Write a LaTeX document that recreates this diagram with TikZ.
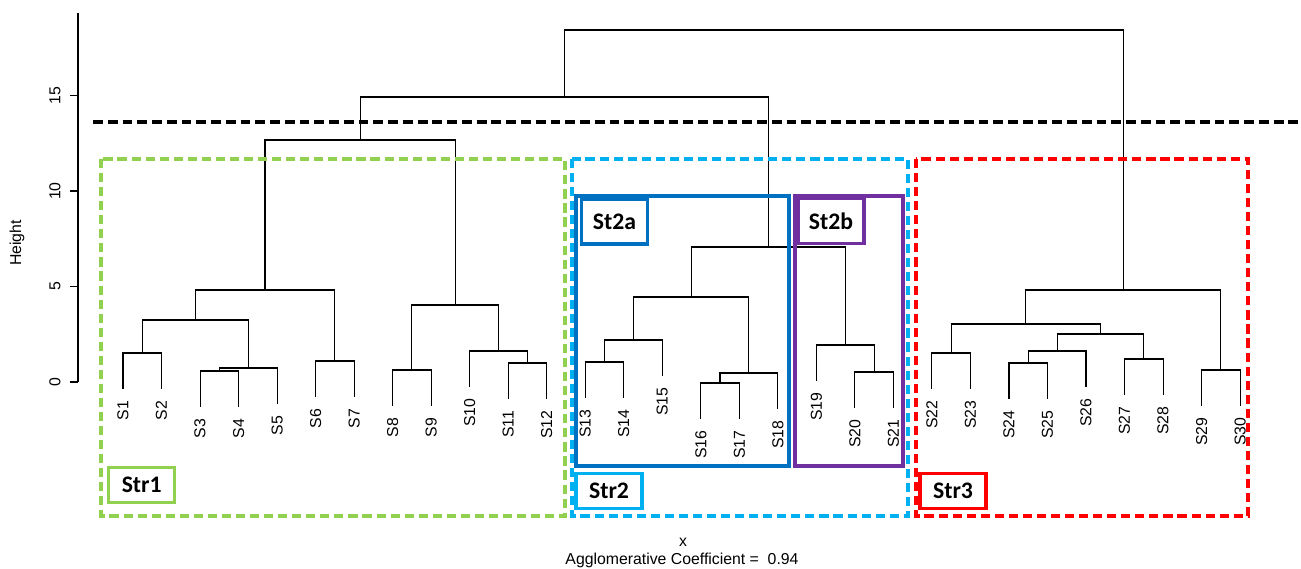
\documentclass[tikz,border=0pt]{standalone}
\usepackage{fontspec}
\setmainfont{Liberation Sans}
\newfontfamily\calibri{Carlito}
\usetikzlibrary{calc}
\definecolor{strgreen}{HTML}{92D050}
\definecolor{strcyan}{HTML}{00B0F0}
\definecolor{strred}{HTML}{FF0000}
\definecolor{stblue}{HTML}{0070C0}
\definecolor{stpurple}{HTML}{7030A0}
\begin{document}
\begin{tikzpicture}[x=0.02cm,y=-0.02cm,
  tree/.style={line width=0.6pt},
  leaf/.style={rotate=90,anchor=east,inner sep=0pt,font=\fontsize{9}{10}\selectfont},
  grp/.style={dash pattern=on 5.2pt off 2.8pt,line width=1.8pt},
  sub/.style={line width=1.9pt},
  tag/.style={draw,line width=1.9pt,inner sep=0pt,minimum width=1.32cm,minimum height=0.71cm,
    font=\calibri\bfseries\fontsize{13.5}{15}\selectfont}]
  \useasboundingbox (0,0) rectangle (1301,568);

  % axis
  \draw[line width=0.6pt] (78,13) -- (78,382);
  \foreach \v in {0,5,10,15} {
    \draw[line width=0.6pt] (70,{382-19.1*\v}) -- (78,{382-19.1*\v});
    \node[rotate=90,font=\fontsize{9}{10}\selectfont] (tick\v) at (55,{382-19.1*\v}) {\v};
  }
  \node[rotate=90,font=\fontsize{9}{10}\selectfont] (ylab) at (17,243) {Height};

  % leaves
  \foreach \i/\b in {1/388.5, 2/388.5, 3/406.5, 4/406.5, 5/403.5, 6/396.5, 7/396.5, 8/405.5,
      9/405.5, 10/386.5, 11/398.5, 12/398.5, 13/397.5, 14/397.5, 15/375.5, 16/418.5, 17/418.5,
      18/408.5, 19/380.5, 20/407.5, 21/407.5, 22/388.5, 23/388.5, 24/398.5, 25/398.5,
      26/386.5, 27/394.5, 28/394.5, 29/405.5, 30/405.5} {
    \coordinate (l\i) at ({123+38.52*(\i-1)},\b);
    \node[leaf] (s\i) at ({123+38.52*(\i-1)},{\b+12}) {S\i};
  }

  % merges
  \coordinate (a1) at (142.3,353);  \coordinate (a2) at (219.3,371);
  \coordinate (a3) at (248.2,368);  \coordinate (a4) at (195.2,320);
  \coordinate (a5) at (334.9,361);  \coordinate (a6) at (265,290);
  \coordinate (a7) at (411.9,370);  \coordinate (a8) at (527.5,363);
  \coordinate (a9) at (498.6,351);  \coordinate (a10) at (455.2,305);
  \coordinate (a11) at (360.1,140);
  \coordinate (b1) at (604.5,362);  \coordinate (b2) at (633.4,340);
  \coordinate (b3) at (720,383);    \coordinate (b4) at (748.9,373);
  \coordinate (b5) at (691.2,297);  \coordinate (b6) at (874.2,372);
  \coordinate (b7) at (845.3,345);  \coordinate (b8) at (768.2,247);
  \coordinate (b9) at (564.2,97);
  \coordinate (c1) at (951.2,353);  \coordinate (c2) at (1028.2,363);
  \coordinate (c3) at (1057.1,351); \coordinate (c4) at (1143.8,359);
  \coordinate (c5) at (1100.4,334); \coordinate (c6) at (1025.8,324);
  \coordinate (c7) at (1220.8,370); \coordinate (c8) at (1123.3,290);
  \coordinate (root) at (843.8,30);

  \foreach \l/\m/\r in {l1/a1/l2, l3/a2/l4, a2/a3/l5, a1/a4/a3, l6/a5/l7, a4/a6/a5,
      l8/a7/l9, l11/a8/l12, l10/a9/a8, a7/a10/a9, a6/a11/a10,
      l13/b1/l14, b1/b2/l15, l16/b3/l17, b3/b4/l18, b2/b5/b4, l20/b6/l21, l19/b7/b6,
      b5/b8/b7, a11/b9/b8,
      l22/c1/l23, l24/c2/l25, c2/c3/l26, l27/c4/l28, c3/c5/c4, c1/c6/c5, l29/c7/l30,
      c6/c8/c7, b9/root/c8}
    \draw[tree] (\l) |- (\m) -| (\r);

  % cut
  \draw[line width=2pt,dash pattern=on 5.6pt off 2.8pt] (93,122) -- (1301,122);

  % groups
  \draw[grp,strgreen] (101,159) rectangle (565,516);
  \draw[grp,strcyan] (572,159) rectangle (908,516);
  \draw[grp,strred] (916,159) rectangle (1248,516);
  \draw[sub,stblue] (576,196) rectangle (789,466);
  \draw[sub,stpurple] (795,196) rectangle (903,466);

  \node[tag,strgreen,text=black] (str1) at (141.7,485) {Str1};
  \node[tag,strcyan,text=black] (str2) at (609,491) {Str2};
  \node[tag,strred,text=black] (str3) at (953,491) {Str3};
  \node[tag,stblue,text=black,minimum height=0.89cm] (st2a) at (614.5,221.7) {St2a};
  \node[tag,stpurple,text=black,minimum height=0.89cm] (st2b) at (831,221) {St2b};

  % x axis text
  \node[anchor=base,font=\fontsize{9}{10}\selectfont] (xlab) at (683,546) {x};
  \node[anchor=base,font=\fontsize{9}{10}\selectfont] (coef) at (682,564.3) {Agglomerative Coefficient =\ \ 0.94};
\end{tikzpicture}
\end{document}
